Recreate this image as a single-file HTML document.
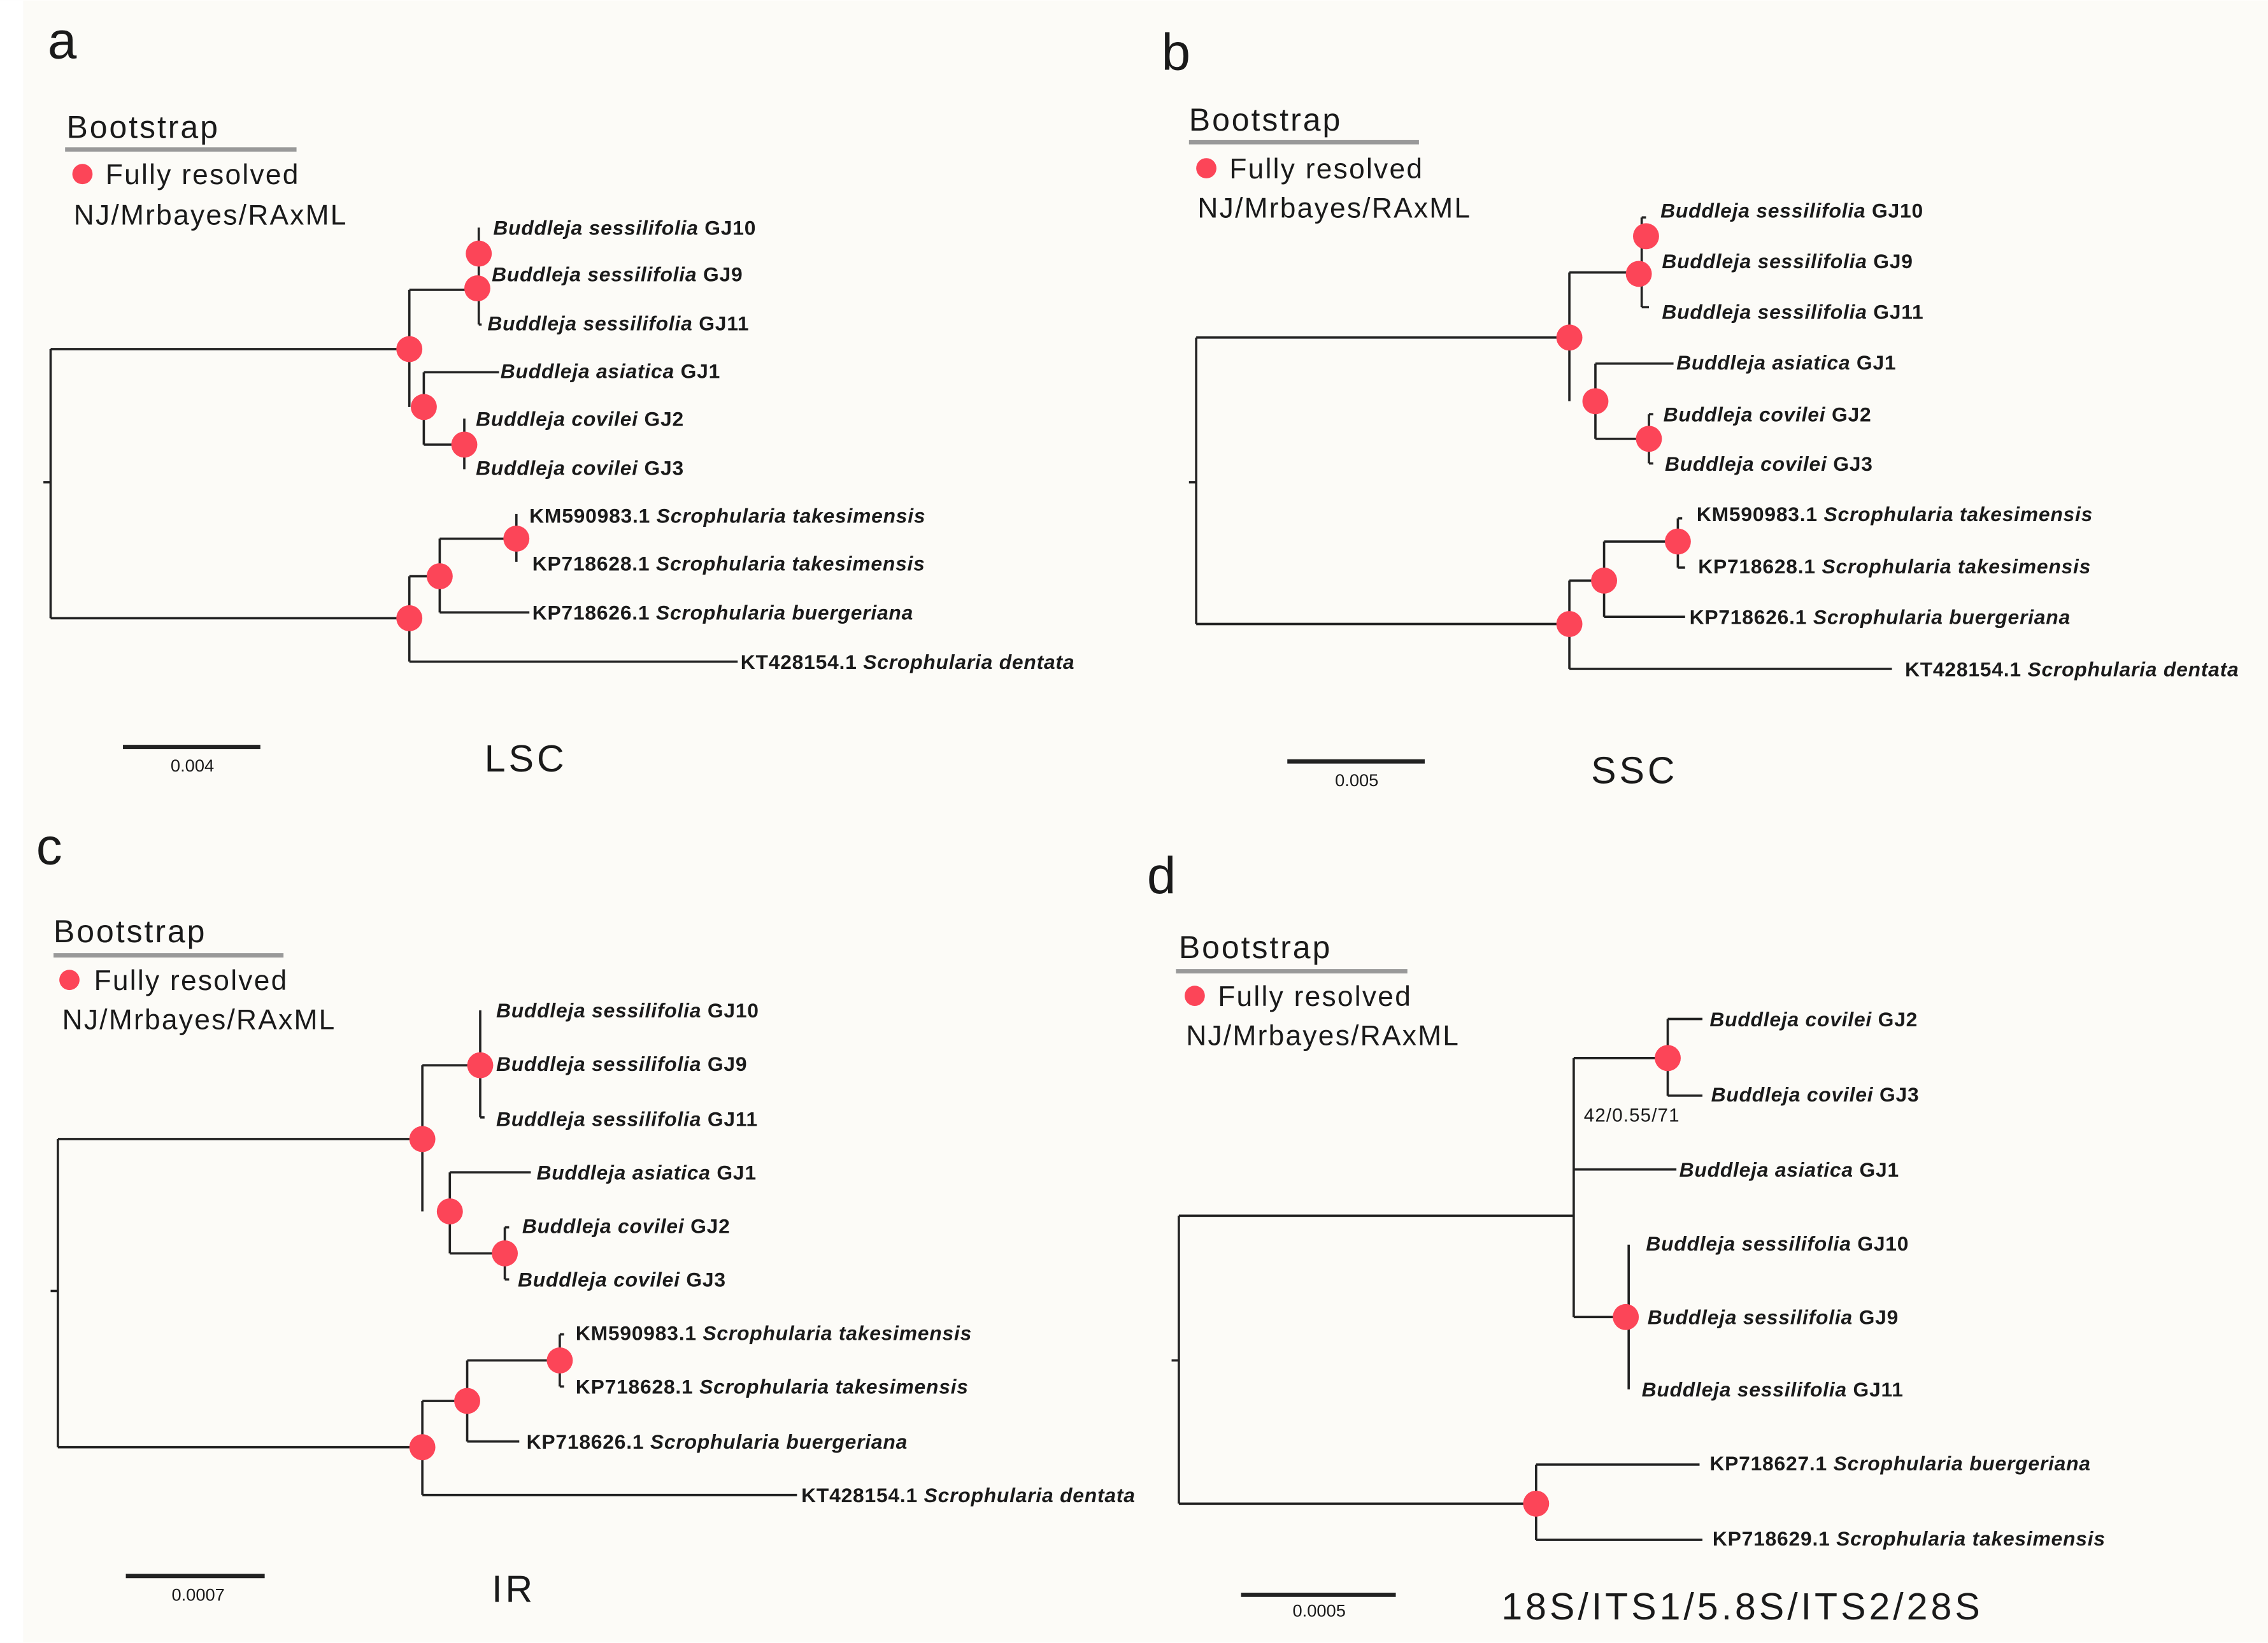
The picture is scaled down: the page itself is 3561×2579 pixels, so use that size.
<!DOCTYPE html>
<html><head><meta charset="utf-8"><style>
html,body{margin:0;padding:0;background:#fff}
svg{display:block}
text{font-family:"Liberation Sans Narrow","Liberation Sans",sans-serif;fill:#1a1a1a}
.l{font-size:14px;font-weight:bold;font-style:italic;letter-spacing:0.35px}
.n{font-style:normal}
.h{font-size:22px;font-family:"Liberation Sans",sans-serif;letter-spacing:1.3px}
.m{font-size:19.5px;font-family:"Liberation Sans",sans-serif;letter-spacing:1px}
.p{font-size:36px;font-family:"Liberation Sans",sans-serif}
.s{font-size:12px;font-family:"Liberation Sans",sans-serif}
.r{font-size:26px;font-family:"Liberation Sans",sans-serif;letter-spacing:2.2px}
path{fill:none;stroke:#222;stroke-width:1.6}
.u{stroke:#999;stroke-width:3}
.b{stroke:#222;stroke-width:3}
circle{fill:#fc4558}
</style></head><body>
<svg width="3561" height="2579" viewBox="0 0 1568 1135" xmlns="http://www.w3.org/2000/svg">
<rect x="0" y="0" width="1568" height="1135" fill="#fcfbf7"/>
<rect x="0" y="0" width="16" height="1135" fill="#fff"/>

<!-- Panel a -->
<text x="33" y="40" class="p">a</text>
<text x="46" y="95" class="h">Bootstrap</text>
<path class="u" d="M45 103H205"/>
<circle cx="57" cy="120" r="7"/>
<text x="73" y="127" class="m">Fully resolved</text>
<text x="51" y="155" class="m">NJ/Mrbayes/RAxML</text>
<path d="M30 333H35 M35 241V427 M35 241H283 M35 427H283
M283 200V281 M283 200H330 M331 157V224 M331 224H333
M293 257V307 M293 257H345 M293 307H321 M321 289V324
M283 398V457 M283 398H304 M283 457H510 M304 372V423 M304 372H357 M304 423H366 M357 355V388"/>
<circle cx="331" cy="175" r="9"/><circle cx="330" cy="199" r="9"/>
<circle cx="283" cy="241" r="9"/><circle cx="293" cy="281" r="9"/><circle cx="321" cy="307" r="9"/>
<circle cx="357" cy="372" r="9"/><circle cx="304" cy="398" r="9"/><circle cx="283" cy="427" r="9"/>
<text x="341" y="162" class="l">Buddleja sessilifolia <tspan class="n">GJ10</tspan></text>
<text x="340" y="194" class="l">Buddleja sessilifolia <tspan class="n">GJ9</tspan></text>
<text x="337" y="228" class="l">Buddleja sessilifolia <tspan class="n">GJ11</tspan></text>
<text x="346" y="261" class="l">Buddleja asiatica <tspan class="n">GJ1</tspan></text>
<text x="329" y="294" class="l">Buddleja covilei <tspan class="n">GJ2</tspan></text>
<text x="329" y="328" class="l">Buddleja covilei <tspan class="n">GJ3</tspan></text>
<text x="366" y="361" class="l"><tspan class="n">KM590983.1 </tspan>Scrophularia takesimensis</text>
<text x="368" y="394" class="l"><tspan class="n">KP718628.1 </tspan>Scrophularia takesimensis</text>
<text x="368" y="428" class="l"><tspan class="n">KP718626.1 </tspan>Scrophularia buergeriana</text>
<text x="512" y="462" class="l"><tspan class="n">KT428154.1 </tspan>Scrophularia dentata</text>
<path class="b" d="M85 516H180"/>
<text x="133" y="533" class="s" text-anchor="middle">0.004</text>
<text x="335" y="533" class="r">LSC</text>

<!-- Panel b -->
<text x="803" y="48" class="p">b</text>
<text x="822" y="90" class="h">Bootstrap</text>
<path class="u" d="M822 98H981"/>
<circle cx="834" cy="116" r="7"/>
<text x="850" y="123" class="m">Fully resolved</text>
<text x="828" y="150" class="m">NJ/Mrbayes/RAxML</text>
<path d="M822 333H827 M827 233V431 M827 233H1085 M827 431H1085
M1085 188V277 M1085 188H1133 M1135 150V212 M1135 212H1140 M1135 150H1138
M1103 251V303 M1103 251H1157 M1103 303H1140 M1140 286V320 M1140 286H1143 M1140 320H1143
M1085 401V462 M1085 401H1109 M1085 462H1308 M1109 374V426 M1109 374H1160 M1109 426H1165 M1160 358V392 M1160 358H1163 M1160 392H1165"/>
<circle cx="1138" cy="163" r="9"/><circle cx="1133" cy="189" r="9"/>
<circle cx="1085" cy="233" r="9"/><circle cx="1103" cy="277" r="9"/><circle cx="1140" cy="303" r="9"/>
<circle cx="1160" cy="374" r="9"/><circle cx="1109" cy="401" r="9"/><circle cx="1085" cy="431" r="9"/>
<text x="1148" y="150" class="l">Buddleja sessilifolia <tspan class="n">GJ10</tspan></text>
<text x="1149" y="185" class="l">Buddleja sessilifolia <tspan class="n">GJ9</tspan></text>
<text x="1149" y="220" class="l">Buddleja sessilifolia <tspan class="n">GJ11</tspan></text>
<text x="1159" y="255" class="l">Buddleja asiatica <tspan class="n">GJ1</tspan></text>
<text x="1150" y="291" class="l">Buddleja covilei <tspan class="n">GJ2</tspan></text>
<text x="1151" y="325" class="l">Buddleja covilei <tspan class="n">GJ3</tspan></text>
<text x="1173" y="360" class="l"><tspan class="n">KM590983.1 </tspan>Scrophularia takesimensis</text>
<text x="1174" y="396" class="l"><tspan class="n">KP718628.1 </tspan>Scrophularia takesimensis</text>
<text x="1168" y="431" class="l"><tspan class="n">KP718626.1 </tspan>Scrophularia buergeriana</text>
<text x="1317" y="467" class="l"><tspan class="n">KT428154.1 </tspan>Scrophularia dentata</text>
<path class="b" d="M890 526H985"/>
<text x="938" y="543" class="s" text-anchor="middle">0.005</text>
<text x="1100" y="541" class="r">SSC</text>

<!-- Panel c -->
<text x="25" y="597" class="p">c</text>
<text x="37" y="651" class="h">Bootstrap</text>
<path class="u" d="M37 660H196"/>
<circle cx="48" cy="677" r="7"/>
<text x="65" y="684" class="m">Fully resolved</text>
<text x="43" y="711" class="m">NJ/Mrbayes/RAxML</text>
<path d="M35 892H40 M40 787V1000 M40 787H292 M40 1000H292
M292 736V837 M292 736H332 M332 698V772 M332 772H335
M311 810V866 M311 810H367 M311 866H349 M349 848V884 M349 848H352 M349 884H352
M292 968V1033 M292 968H323 M292 1033H551 M323 940V996 M323 940H387 M323 996H359 M387 922V958 M387 922H390 M387 958H390"/>
<circle cx="332" cy="736" r="9"/>
<circle cx="292" cy="787" r="9"/><circle cx="311" cy="837" r="9"/><circle cx="349" cy="866" r="9"/>
<circle cx="387" cy="940" r="9"/><circle cx="323" cy="968" r="9"/><circle cx="292" cy="1000" r="9"/>
<text x="343" y="703" class="l">Buddleja sessilifolia <tspan class="n">GJ10</tspan></text>
<text x="343" y="740" class="l">Buddleja sessilifolia <tspan class="n">GJ9</tspan></text>
<text x="343" y="778" class="l">Buddleja sessilifolia <tspan class="n">GJ11</tspan></text>
<text x="371" y="815" class="l">Buddleja asiatica <tspan class="n">GJ1</tspan></text>
<text x="361" y="852" class="l">Buddleja covilei <tspan class="n">GJ2</tspan></text>
<text x="358" y="889" class="l">Buddleja covilei <tspan class="n">GJ3</tspan></text>
<text x="398" y="926" class="l"><tspan class="n">KM590983.1 </tspan>Scrophularia takesimensis</text>
<text x="398" y="963" class="l"><tspan class="n">KP718628.1 </tspan>Scrophularia takesimensis</text>
<text x="364" y="1001" class="l"><tspan class="n">KP718626.1 </tspan>Scrophularia buergeriana</text>
<text x="554" y="1038" class="l"><tspan class="n">KT428154.1 </tspan>Scrophularia dentata</text>
<path class="b" d="M87 1089H183"/>
<text x="137" y="1106" class="s" text-anchor="middle">0.0007</text>
<text x="340" y="1107" class="r">IR</text>

<!-- Panel d -->
<text x="793" y="617" class="p">d</text>
<text x="815" y="662" class="h">Bootstrap</text>
<path class="u" d="M813 671H973"/>
<circle cx="826" cy="688" r="7"/>
<text x="842" y="695" class="m">Fully resolved</text>
<text x="820" y="722" class="m">NJ/Mrbayes/RAxML</text>
<path d="M810 940H815 M815 840V1039 M815 840H1088 M815 1039H1062
M1088 731V910 M1088 731H1153 M1088 808H1159 M1088 910H1124
M1153 704V757 M1153 704H1177 M1153 757H1177
M1126 860V960
M1062 1012V1064 M1062 1012H1175 M1062 1064H1177"/>
<circle cx="1153" cy="731" r="9"/><circle cx="1124" cy="910" r="9"/><circle cx="1062" cy="1039" r="9"/>
<text x="1095" y="775" font-size="13" font-family="Liberation Sans,sans-serif" letter-spacing="0.5">42/0.55/71</text>
<text x="1182" y="709" class="l">Buddleja covilei <tspan class="n">GJ2</tspan></text>
<text x="1183" y="761" class="l">Buddleja covilei <tspan class="n">GJ3</tspan></text>
<text x="1161" y="813" class="l">Buddleja asiatica <tspan class="n">GJ1</tspan></text>
<text x="1138" y="864" class="l">Buddleja sessilifolia <tspan class="n">GJ10</tspan></text>
<text x="1139" y="915" class="l">Buddleja sessilifolia <tspan class="n">GJ9</tspan></text>
<text x="1135" y="965" class="l">Buddleja sessilifolia <tspan class="n">GJ11</tspan></text>
<text x="1182" y="1016" class="l"><tspan class="n">KP718627.1 </tspan>Scrophularia buergeriana</text>
<text x="1184" y="1068" class="l"><tspan class="n">KP718629.1 </tspan>Scrophularia takesimensis</text>
<path class="b" d="M858 1102H965"/>
<text x="912" y="1117" class="s" text-anchor="middle">0.0005</text>
<text x="1038" y="1119" class="r">18S/ITS1/5.8S/ITS2/28S</text>
</svg>
</body></html>
